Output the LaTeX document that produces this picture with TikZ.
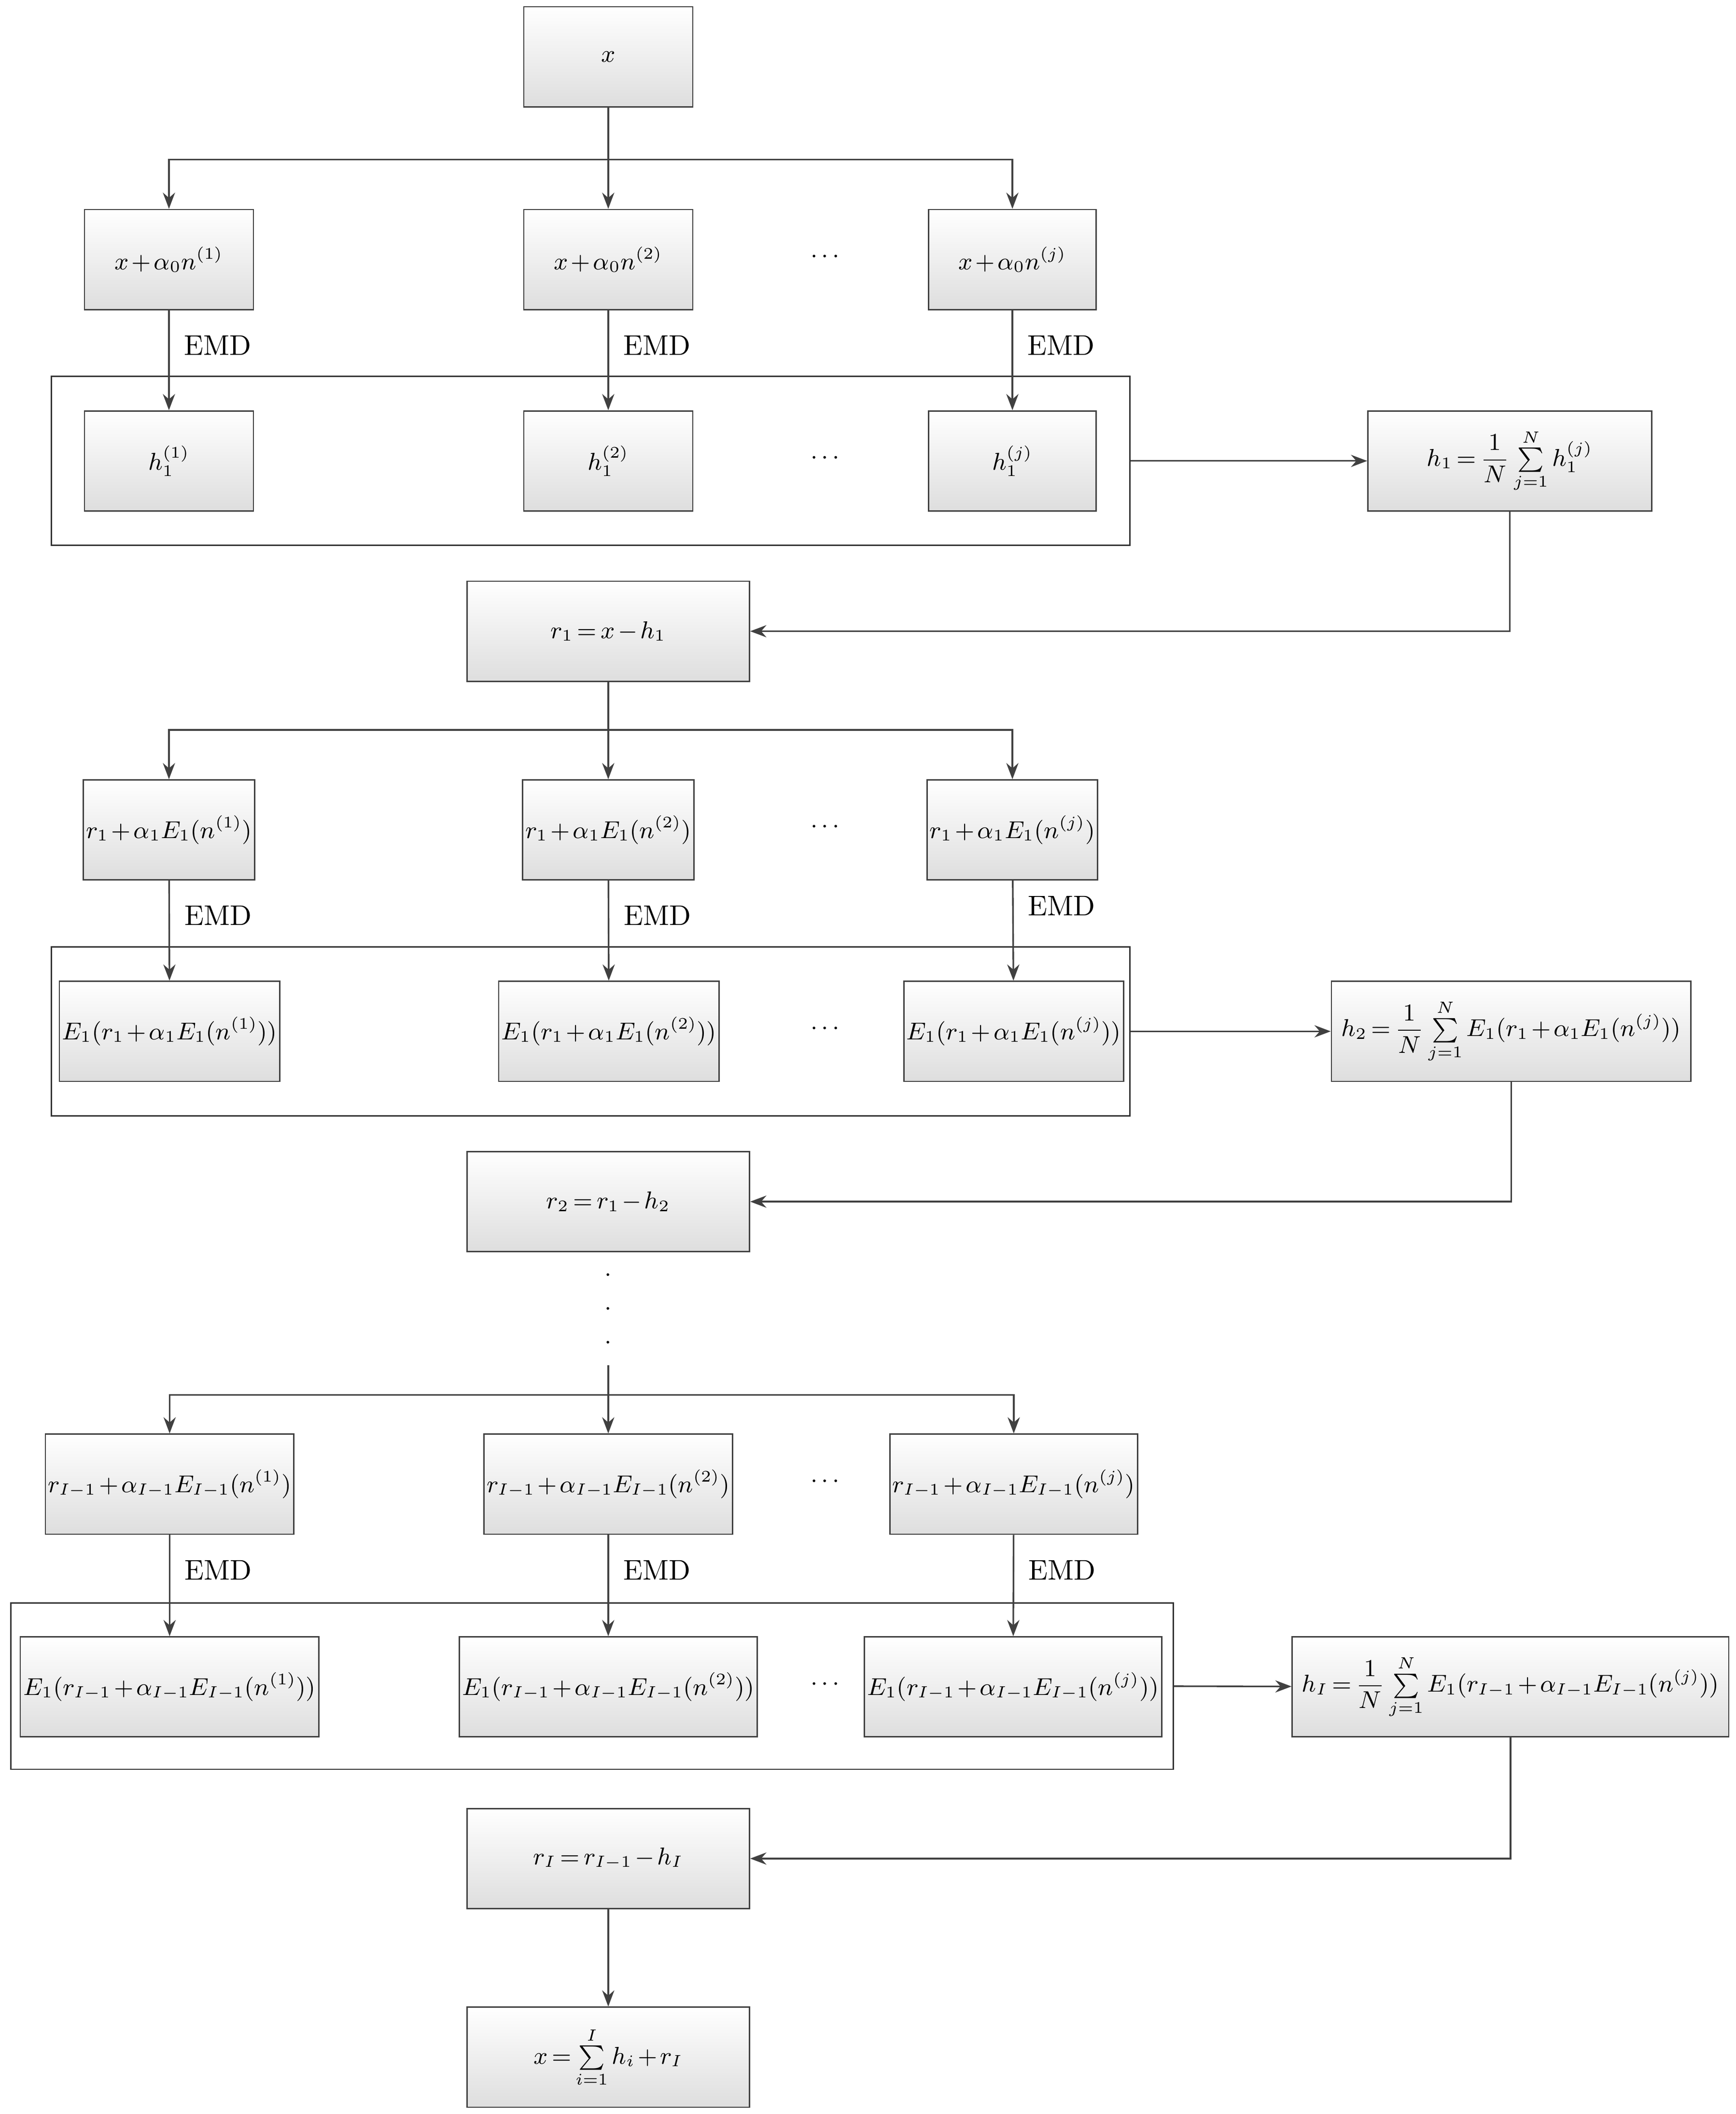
\documentclass[tikz,border=0pt]{standalone}
\usepackage{amsmath}
\usetikzlibrary{arrows.meta}
\begin{document}
\medmuskip=2mu plus 1mu minus 1mu
\thickmuskip=3mu plus 1mu minus 1mu
\begin{tikzpicture}[x=0.5pt,y=-0.5pt,
  font=\fontsize{9}{11}\selectfont,
  box/.style={draw=black!75,line width=0.5pt,top color=white,bottom color=black!13,minimum height=37pt,inner sep=1pt},
  grp/.style={draw=black!80,line width=0.5pt},
  ar/.style={draw=black!75,line width=0.6pt,-{Stealth[length=6pt,width=4.5pt]}},
  ln/.style={draw=black!75,line width=0.6pt},
  lab/.style={inner sep=0pt,anchor=center},
  emd/.style={right=2pt,font=\fontsize{10.5}{12}\selectfont}]
\useasboundingbox (0,0) rectangle (1284,1564);
% top
\node[box,minimum width=62.5pt] (x) at (450,42) {$x$};
\node[box,minimum width=62.5pt] (a1) at (125,192) {$x+\alpha_0 n^{(1)}$};
\node[box,minimum width=62.5pt] (a2) at (450,192) {$x+\alpha_0 n^{(2)}$};
\node[box,minimum width=62pt] (a3) at (749,192) {$x+\alpha_0 n^{(j)}$};
\node[lab] (d1) at (612,190) {$\cdots$};
\coordinate (s1) at (450,118);
\draw[ln] (x) -- (s1);
\draw[ar] (s1) -| (a1);
\draw[ar] (s1) -- (a2);
\draw[ar] (s1) -| (a3);
\node[grp,minimum width=399pt,minimum height=62.5pt] (g1) at (437,341) {};
\node[box,minimum width=62.5pt] (b1) at (125,341) {$h_1^{(1)}$};
\node[box,minimum width=62.5pt] (b2) at (450,341) {$h_1^{(2)}$};
\node[box,minimum width=62pt] (b3) at (749,341) {$h_1^{(j)}$};
\node[lab] (d2) at (612,339) {$\cdots$};
\draw[ar] (a1) -- node[emd,pos=0.35]{EMD} (b1);
\draw[ar] (a2) -- node[emd,pos=0.35]{EMD} (b2);
\draw[ar] (a3) -- node[emd,pos=0.35]{EMD} (b3);
\node[box,minimum width=105pt] (h1) at (1117,341) {$h_1=\dfrac{1}{N}\sum\limits_{j=1}^{N}h_1^{(j)}$};
\draw[ar] (g1.east) -- (h1);
\node[box,minimum width=104.5pt] (r1) at (450,467) {$r_1=x-h_1$};
\draw[ar] (h1.south) |- (r1.east);
% second
\coordinate (s2) at (450,540);
\node[box,minimum width=62.5pt] (c1) at (125,614) {$r_1+\alpha_1E_1(n^{(1)})$};
\node[box,minimum width=62.5pt] (c2) at (450,614) {$r_1+\alpha_1E_1(n^{(2)})$};
\node[box,minimum width=62pt] (c3) at (749,614) {$r_1+\alpha_1E_1(n^{(j)})$};
\node[lab] (d3) at (612,612) {$\cdots$};
\draw[ln] (r1) -- (s2);
\draw[ar] (s2) -| (c1);
\draw[ar] (s2) -- (c2);
\draw[ar] (s2) -| (c3);
\node[grp,minimum width=399pt,minimum height=62.5pt] (g2) at (437,763) {};
\node[box,minimum width=79.5pt] (e1) at (125.5,763) {$E_1(r_1+\alpha_1E_1(n^{(1)}))$};
\node[box,minimum width=79.5pt] (e2) at (450.5,763) {$E_1(r_1+\alpha_1E_1(n^{(2)}))$};
\node[box,minimum width=80pt] (e3) at (750,763) {$E_1(r_1+\alpha_1E_1(n^{(j)}))$};
\node[lab] (d4) at (612,761) {$\cdots$};
\draw[ar] (c1) -- node[emd,pos=0.35]{EMD} (e1);
\draw[ar] (c2) -- node[emd,pos=0.35]{EMD} (e2);
\draw[ar] (c3) -- node[emd,pos=0.25]{EMD} (e3);
\node[box,minimum width=133pt] (h2) at (1118,763) {$h_2=\dfrac{1}{N}\sum\limits_{j=1}^{N}E_1(r_1+\alpha_1E_1(n^{(j)}))$};
\draw[ar] (g2.east) -- (h2);
\node[box,minimum width=104.5pt] (r2) at (450,889) {$r_2=r_1-h_2$};
\draw[ar] (h2.south) |- (r2.east);
\node[lab] (v1) at (450,943) {.};
\node[lab] (v2) at (450,968) {.};
\node[lab] (v3) at (450,993) {.};
% third
\coordinate (t3) at (450,1010);
\coordinate (s3) at (450,1032);
\node[box,minimum width=89.5pt] (f1) at (125.5,1098) {$r_{I-1}+\alpha_{I-1}E_{I-1}(n^{(1)})$};
\node[box,minimum width=89pt] (f2) at (450,1098) {$r_{I-1}+\alpha_{I-1}E_{I-1}(n^{(2)})$};
\node[box,minimum width=89pt] (f3) at (750,1098) {$r_{I-1}+\alpha_{I-1}E_{I-1}(n^{(j)})$};
\node[lab] (d5) at (612,1096) {$\cdots$};
\draw[ln] (t3) -- (s3);
\draw[ar] (s3) -| (f1);
\draw[ar] (s3) -- (f2);
\draw[ar] (s3) -| (f3);
\node[grp,minimum width=430pt,minimum height=61.5pt] (g3) at (438,1247.5) {};
\node[box,minimum width=110.5pt] (k1) at (125.5,1248) {$E_1(r_{I-1}+\alpha_{I-1}E_{I-1}(n^{(1)}))$};
\node[box,minimum width=110pt] (k2) at (450,1248) {$E_1(r_{I-1}+\alpha_{I-1}E_{I-1}(n^{(2)}))$};
\node[box,minimum width=109.5pt] (k3) at (749.5,1248) {$E_1(r_{I-1}+\alpha_{I-1}E_{I-1}(n^{(j)}))$};
\node[lab] (d6) at (612,1246) {$\cdots$};
\draw[ar] (f1) -- node[emd,pos=0.35]{EMD} (k1);
\draw[ar] (f2) -- node[emd,pos=0.35]{EMD} (k2);
\draw[ar] (f3) -- node[emd,pos=0.35]{EMD} (k3);
\node[box,minimum width=161.5pt] (hI) at (1117.5,1248) {$h_I=\dfrac{1}{N}\sum\limits_{j=1}^{N}E_1(r_{I-1}+\alpha_{I-1}E_{I-1}(n^{(j)}))$};
\draw[ar] (g3.east) -- (hI);
\node[box,minimum width=104.5pt] (rI) at (450,1375) {$r_I=r_{I-1}-h_I$};
\draw[ar] (hI.south) |- (rI.east);
\node[box,minimum width=104.5pt] (fin) at (450,1522) {$x=\sum\limits_{i=1}^{I}h_i+r_I$};
\draw[ar] (rI) -- (fin);
\end{tikzpicture}
\end{document}
